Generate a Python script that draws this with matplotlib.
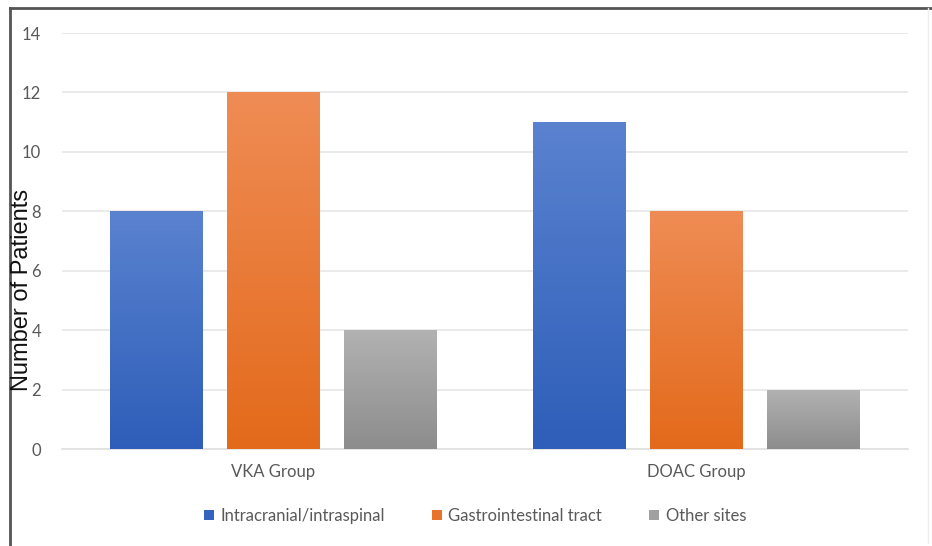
import matplotlib
matplotlib.use("Agg")
import matplotlib.pyplot as plt
import numpy as np
from matplotlib.colors import LinearSegmentedColormap
from matplotlib.patches import Patch
from matplotlib.lines import Line2D

groups = ["VKA Group", "DOAC Group"]
series = ["Intracranial/intraspinal", "Gastrointestinal tract", "Other sites"]
values = {
    "Intracranial/intraspinal": [8, 11],
    "Gastrointestinal tract": [12, 8],
    "Other sites": [4, 2],
}
y_ticks = [0, 2, 4, 6, 8, 10, 12, 14]

grad = {
    "Intracranial/intraspinal": ("#5a82cf", "#2e5eb9"),
    "Gastrointestinal tract": ("#ef8c55", "#e36a1b"),
    "Other sites": ("#b2b2b2", "#8d8d8d"),
}
legend_colors = {
    "Intracranial/intraspinal": "#3663bd",
    "Gastrointestinal tract": "#e8742c",
    "Other sites": "#a0a0a0",
}

W, H = 932, 546
fig = plt.figure(figsize=(W / 100, H / 100), dpi=100)
ax = fig.add_axes([62 / W, 97 / H, (908 - 62) / W, (449 - 33) / H])

x = np.arange(len(groups))
bw = 93 / 423
step = 117 / 423
grad_img = np.linspace(0, 1, 256).reshape(-1, 1)
for i, s in enumerate(series):
    cmap = LinearSegmentedColormap.from_list(s, [grad[s][1], grad[s][0]])
    xs = x + (i - 1) * step
    bars = ax.bar(xs, values[s], width=bw, color=legend_colors[s], edgecolor="none", zorder=2)
    for b in bars:
        x0, y0 = b.get_x(), b.get_y()
        w, h = b.get_width(), b.get_height()
        im = ax.imshow(grad_img, cmap=cmap, aspect="auto", origin="lower",
                       extent=[x0, x0 + w, y0, y0 + h], zorder=3)
        im.set_clip_path(b)

ax.set_xlim(-0.5, 1.5)
ax.set_ylim(0, 14)
ax.set_yticks(y_ticks)
ax.set_xticks(x)
ax.set_xticklabels(groups)
ax.yaxis.grid(True, color="#e6e6e6", linewidth=1.2, zorder=0)
ax.set_axisbelow(True)
for sp in ["top", "right", "left"]:
    ax.spines[sp].set_visible(False)
ax.spines["bottom"].set_color("#e0e0e0")
ax.spines["bottom"].set_linewidth(1.2)
ax.tick_params(axis="both", length=0, colors="#595959", labelsize=12)
ax.tick_params(axis="y", pad=15)
ax.tick_params(axis="x", pad=11)
for lab in ax.get_xticklabels() + ax.get_yticklabels():
    lab.set_fontfamily(["Lato", "DejaVu Sans"])
    lab.set_color("#595959")

fig.text(22 / W, 1 - 290 / H, "Number of Patients", rotation=90, ha="center", va="center",
         fontsize=17, family=["Liberation Sans", "DejaVu Sans"], color="#111111")

handles = [Patch(facecolor=legend_colors[s], edgecolor="none") for s in series]
leg = fig.legend(handles, series, loc="center", bbox_to_anchor=(475 / W, 1 - 516 / H), ncol=3,
                 frameon=False, handlelength=0.6, handleheight=0.6,
                 handletextpad=0.4, columnspacing=2.8,
                 prop={"family": ["Lato", "DejaVu Sans"], "size": 12})
for t in leg.get_texts():
    t.set_color("#595959")

# outer border
fig.add_artist(Line2D([10 / W, 10 / W], [0, 1 - 8 / H], color="#555555", linewidth=2, transform=fig.transFigure))
fig.add_artist(Line2D([10 / W, 1], [1 - 8 / H, 1 - 8 / H], color="#555555", linewidth=2, transform=fig.transFigure))
fig.add_artist(Line2D([928 / W, 928 / W], [3 / H, 1 - 8 / H], color="#eeeeee", linewidth=1, transform=fig.transFigure))

fig.savefig("out.png", dpi=100)
